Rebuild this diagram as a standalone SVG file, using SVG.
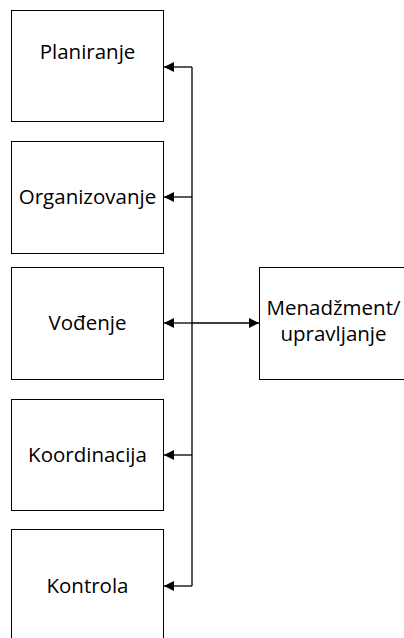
<svg xmlns="http://www.w3.org/2000/svg" width="404" height="638" viewBox="0 0 404 638">
  <style>
    .box { fill: #ffffff; stroke: #000000; stroke-width: 1; }
    .lbl { font-family: "Open Sans", "Liberation Sans", sans-serif; font-size: 20.5px; fill: #000000; text-anchor: middle; }
    .conn { fill: none; stroke: #000000; stroke-width: 1.3; }
  </style>
  <defs>
    <marker id="arrow" viewBox="0 0 10 10" refX="10" refY="5" markerWidth="10" markerHeight="10" markerUnits="userSpaceOnUse" orient="auto">
      <path d="M0,0 L10,5 L0,10 Z" fill="#000000"/>
    </marker>
  </defs>
  <rect width="404" height="638" fill="#ffffff"/>

  <g id="planiranje">
    <rect class="box" x="11.5" y="10.5" width="152" height="111"/>
    <text class="lbl" x="87.5" y="59">Planiranje</text>
  </g>
  <g id="organizovanje">
    <rect class="box" x="11.5" y="141.5" width="152" height="112"/>
    <text class="lbl" x="87.5" y="204">Organizovanje</text>
  </g>
  <g id="vodjenje">
    <rect class="box" x="11.5" y="267.5" width="152" height="112"/>
    <text class="lbl" x="87.5" y="330">Vođenje</text>
  </g>
  <g id="koordinacija">
    <rect class="box" x="11.5" y="399.5" width="152" height="111"/>
    <text class="lbl" x="87.5" y="462">Koordinacija</text>
  </g>
  <g id="kontrola">
    <rect class="box" x="11.5" y="529.5" width="152" height="120"/>
    <text class="lbl" x="87.5" y="593">Kontrola</text>
  </g>
  <g id="menadzment">
    <rect class="box" x="259.5" y="267.5" width="160" height="112"/>
    <text class="lbl" x="333.5" y="315">Menadžment/</text>
    <text class="lbl" x="333.5" y="341">upravljanje</text>
  </g>

  <g id="connectors">
    <path class="conn" d="M192,67 L192,586"/>
    <path class="conn" d="M192,67 L164,67" marker-end="url(#arrow)"/>
    <path class="conn" d="M192,197 L164,197" marker-end="url(#arrow)"/>
    <path class="conn" d="M192,323 L164,323" marker-end="url(#arrow)"/>
    <path class="conn" d="M192,455 L164,455" marker-end="url(#arrow)"/>
    <path class="conn" d="M192,586 L164,586" marker-end="url(#arrow)"/>
    <path class="conn" d="M192,323 L259,323" marker-end="url(#arrow)"/>
  </g>
</svg>
